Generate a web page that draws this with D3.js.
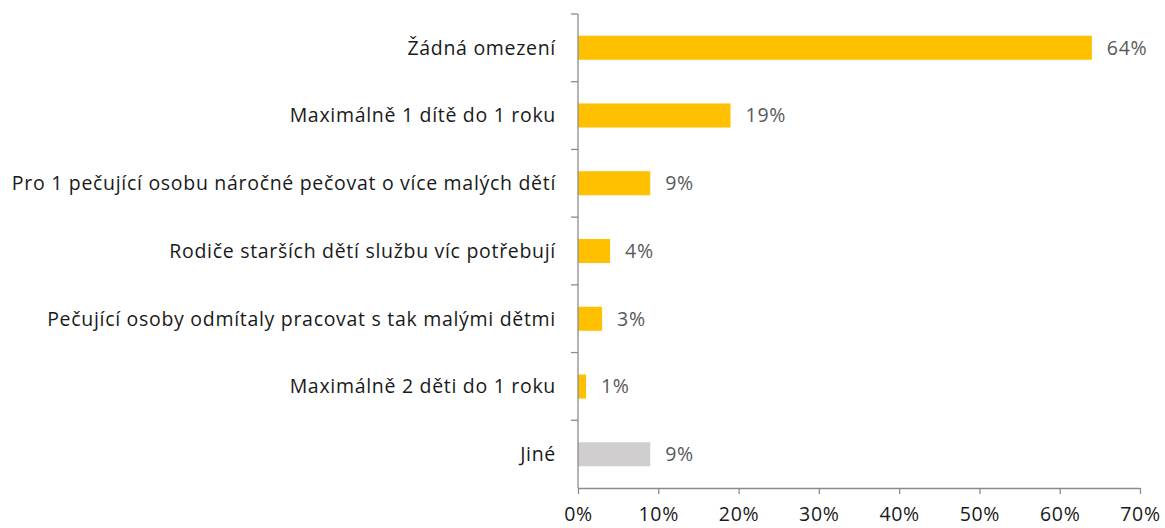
<!DOCTYPE html>
<html>
<head>
<meta charset="utf-8">
<script src="https://cdn.jsdelivr.net/npm/d3@7"></script>
<style>
  body { margin: 0; background: #fff; }
  svg { display: block; font-family: "Open Sans", sans-serif; }
</style>
</head>
<body>
<div id="chart"></div>
<script>
// data
const categories = [
  "Žádná omezení",
  "Maximálně 1 dítě do 1 roku",
  "Pro 1 pečující osobu náročné pečovat o více malých dětí",
  "Rodiče starších dětí službu víc potřebují",
  "Pečující osoby odmítaly pracovat s tak malými dětmi",
  "Maximálně 2 děti do 1 roku",
  "Jiné"
];
const values = [64, 19, 9, 4, 3, 1, 9];
const barColors = ["#FFC000", "#FFC000", "#FFC000", "#FFC000", "#FFC000", "#FFC000", "#D0CECE"];
const xTicks = [0, 10, 20, 30, 40, 50, 60, 70];

const width = 1165, height = 528;
const marginTop = 14, marginRight = 25, marginBottom = 40, marginLeft = 578;
const fontSize = "19.5px";
const spacing = "0.7px";

const svg = d3.select("#chart").append("svg")
    .attr("width", width)
    .attr("height", height);

const x = d3.scaleLinear().domain([0, 70]).range([marginLeft, width - marginRight]);
const y = d3.scaleBand().domain(categories).range([marginTop, height - marginBottom]).paddingInner(0.645).paddingOuter(0.32);

// y band boundaries for the category ticks
const step = (height - marginBottom - marginTop) / categories.length;

const axisColor = "#8c8c8c";

// bars
svg.append("g")
  .selectAll("rect")
  .data(values)
  .join("rect")
    .attr("x", x(0))
    .attr("y", (d, i) => y(categories[i]))
    .attr("width", d => x(d) - x(0))
    .attr("height", y.bandwidth())
    .attr("fill", (d, i) => barColors[i]);

// value labels
svg.append("g")
  .selectAll("text")
  .data(values)
  .join("text")
    .attr("x", d => x(d) + 15)
    .attr("y", (d, i) => y(categories[i]) + y.bandwidth() / 2)
    .attr("dy", "0.35em")
    .attr("fill", "#595959")
    .attr("font-size", fontSize)
    .attr("letter-spacing", spacing)
    .text(d => d + "%");

// category labels
svg.append("g")
  .selectAll("text")
  .data(categories)
  .join("text")
    .attr("x", x(0) - 22)
    .attr("y", d => y(d) + y.bandwidth() / 2)
    .attr("dy", "0.35em")
    .attr("text-anchor", "end")
    .attr("fill", "#1a1a1a")
    .attr("font-size", fontSize)
    .attr("letter-spacing", spacing)
    .text(d => d);

// y axis line + ticks between categories
const yAxis = svg.append("g");
yAxis.append("line")
    .attr("x1", x(0)).attr("x2", x(0))
    .attr("y1", marginTop).attr("y2", height - marginBottom)
    .attr("stroke", axisColor).attr("stroke-width", 1.3);
yAxis.selectAll("line.tick")
  .data(d3.range(categories.length))
  .join("line")
    .attr("class", "tick")
    .attr("x1", x(0) - 7).attr("x2", x(0))
    .attr("y1", i => marginTop + i * step)
    .attr("y2", i => marginTop + i * step)
    .attr("stroke", axisColor).attr("stroke-width", 1.3);

// x axis
const xAxis = svg.append("g")
    .attr("transform", `translate(0,${height - marginBottom})`)
    .call(d3.axisBottom(x).tickValues(xTicks).tickFormat(d => d + "%").tickSize(6).tickSizeOuter(0).tickPadding(13));
xAxis.select(".domain").attr("stroke", axisColor).attr("stroke-width", 1.3);
xAxis.selectAll(".tick line").attr("stroke", axisColor).attr("stroke-width", 1.3);
xAxis.selectAll(".tick text")
    .attr("fill", "#1a1a1a")
    .attr("font-size", fontSize)
    .attr("letter-spacing", spacing)
    .attr("font-family", "'Open Sans', sans-serif");
</script>
</body>
</html>
